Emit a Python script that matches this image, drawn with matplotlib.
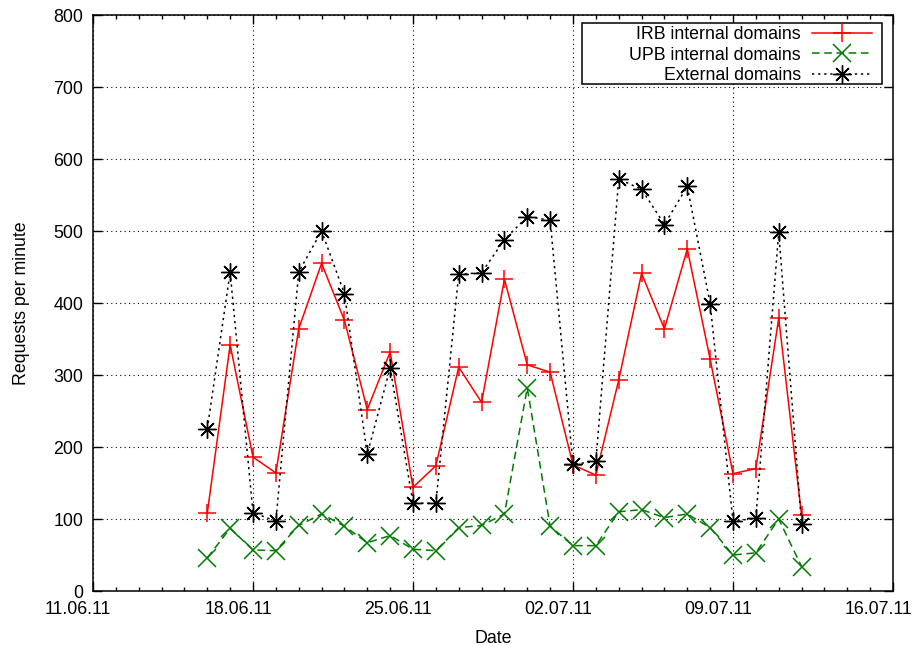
import pandas as pd
import matplotlib
matplotlib.use("Agg")
import matplotlib.pyplot as plt
import matplotlib.dates as mdates
from matplotlib.patches import Rectangle
from matplotlib.transforms import ScaledTranslation

plt.rcParams["font.family"] = ["Liberation Sans", "DejaVu Sans"]
FS = 12.8

# one value per day, 16.06.11 .. 12.07.11
dates = pd.date_range("2011-06-16", "2011-07-12", freq="D")

irb = [108, 342, 186, 164, 364, 455, 376, 252, 332, 144, 174,
       311, 262, 433, 314, 304, 175, 161, 293, 441, 364, 475, 322,
       163, 170, 379, 105]
upb = [46, 87, 57, 56, 91, 107, 90, 67, 77, 58, 56,
       88, 91, 107, 282, 90, 63, 63, 110, 113, 102, 107, 88,
       50, 53, 100, 34]
ext = [225, 443, 109, 97, 443, 500, 413, 190, 310, 122, 122,
       440, 442, 488, 520, 515, 176, 180, 572, 558, 509, 562, 399,
       97, 101, 498, 93]

major_ticks = pd.date_range("2011-06-11", "2011-07-16", freq="7D")
minor_ticks = pd.date_range("2011-06-11", "2011-07-16", freq="D")

fig = plt.figure(figsize=(9.13, 6.46), dpi=100)
ax = fig.add_axes([93 / 913, 55 / 646, 800 / 913, 576 / 646])

star = (8, 2, 0)
ax.plot(dates, irb, color="#ff0000", lw=1.1, ls="-", marker="+",
        markersize=13, markeredgewidth=1.1, label="IRB internal domains")
ax.plot(dates, upb, color="#007a00", lw=1.1, ls=(0, (5, 3)), marker="x",
        markersize=12.5, markeredgewidth=1.1, label="UPB internal domains")
ax.plot(dates, ext, color="black", lw=1.1, ls=(0, (1.5, 2.5)), marker=star,
        markersize=13, markeredgewidth=1.0, label="External domains")

ax.set_xlim(major_ticks[0], major_ticks[-1])
ax.set_ylim(0, 800)
ax.set_xticks(major_ticks)
ax.set_xticks(minor_ticks, minor=True)
ax.xaxis.set_major_formatter(mdates.DateFormatter("%d.%m.%y"))
ax.set_yticks(range(0, 801, 100))

ax.tick_params(which="both", direction="in", top=True, right=True,
               labelsize=FS, width=1, color="black")
ax.tick_params(which="major", length=6.5)
ax.tick_params(which="minor", length=3.2)
ax.tick_params(axis="x", pad=7)
ax.tick_params(axis="y", pad=7)

# gnuplot puts the date labels a bit left of their ticks
shift = ScaledTranslation(-15 / 100, 0, fig.dpi_scale_trans)
for lab in ax.get_xticklabels():
    lab.set_transform(lab.get_transform() + shift)

ax.grid(True, which="major", color="black", ls=(0, (1, 3)), lw=0.8)
for s in ax.spines.values():
    s.set_linewidth(1.1)

ax.set_xlabel("Date", fontsize=FS, labelpad=9)
ax.set_ylabel("Requests per minute", fontsize=FS, labelpad=17)

# key box drawn separately, gnuplot style (wide left margin)
ax.add_patch(Rectangle((489 / 800, 507 / 576), 300 / 800, 61 / 576,
                       transform=ax.transAxes, facecolor="white",
                       edgecolor="black", lw=1.1, zorder=4))
leg = ax.legend(loc="upper right", bbox_to_anchor=(779 / 800, 565 / 576),
                markerfirst=False, frameon=False, fontsize=FS,
                handlelength=3.4, labelspacing=0.2, borderpad=0,
                handletextpad=0.6, borderaxespad=0)
leg.set_zorder(5)

fig.savefig("out.png", dpi=100)
